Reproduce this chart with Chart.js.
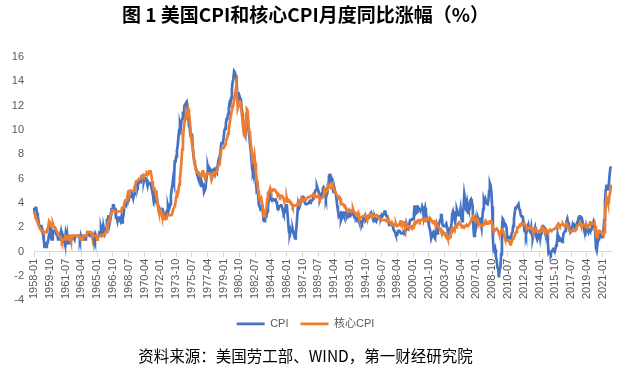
<!DOCTYPE html>
<html>
<head>
<meta charset="utf-8">
<script src="https://cdn.jsdelivr.net/npm/chart.js@4.4.1/dist/chart.umd.min.js"></script>
<style>
  body { margin: 0; background: #fff; }
</style>
</head>
<body>
<canvas id="cpiChart" width="621" height="375"></canvas>
<script>
// 月度同比 (%), 1958-01 ~ 2021-12, 每行一年
const startYear = 1958;
const endYear = 2021;
const tickEvery = 21; // 横轴每21个月标一次

const cpi = [
  3.6, 3.2, 3.6, 3.6, 3.2, 2.9, 2.5, 2.1, 2.1, 2.1, 2.1, 1.8,
  1.4, 1.0, 0.4, 0.4, 0.4, 0.7, 0.7, 1.0, 1.4, 1.7, 1.4, 1.7,
  1.0, 1.7, 1.7, 1.7, 1.7, 1.7, 1.4, 1.4, 1.0, 1.4, 1.4, 1.4,
  1.7, 1.4, 1.4, 1.0, 1.0, 0.7, 1.4, 1.0, 1.4, 0.7, 0.7, 0.7,
  0.7, 1.0, 1.0, 1.3, 1.3, 1.3, 1.0, 1.3, 1.3, 1.3, 1.3, 1.3,
  1.3, 1.0, 1.3, 1.0, 1.0, 1.3, 1.3, 1.3, 1.0, 1.3, 1.3, 1.6,
  1.6, 1.6, 1.3, 1.3, 1.3, 1.3, 1.3, 1.0, 1.3, 1.0, 1.3, 1.0,
  1.0, 1.0, 1.3, 1.6, 1.6, 1.9, 1.6, 1.9, 1.6, 1.9, 1.6, 1.9,
  1.9, 2.6, 2.6, 2.9, 2.9, 2.5, 2.8, 3.5, 3.5, 3.8, 3.8, 3.5,
  3.5, 2.8, 2.8, 2.5, 2.8, 2.8, 2.8, 2.5, 2.8, 2.4, 2.7, 3.0,
  3.7, 4.0, 3.9, 3.9, 3.9, 4.2, 4.5, 4.5, 4.5, 4.5, 4.8, 4.7,
  4.4, 4.7, 5.3, 5.5, 5.5, 5.5, 5.4, 5.7, 5.7, 5.7, 5.9, 6.2,
  6.2, 6.2, 5.8, 6.1, 6.0, 6.0, 6.0, 5.4, 5.7, 5.6, 5.6, 5.6,
  5.3, 5.0, 4.7, 4.2, 4.4, 4.6, 4.4, 4.6, 4.1, 3.8, 3.3, 3.3,
  3.3, 3.5, 3.5, 3.5, 3.2, 2.7, 2.9, 2.9, 3.2, 3.4, 3.7, 3.4,
  3.6, 3.9, 4.6, 5.1, 5.5, 6.0, 5.7, 7.4, 7.4, 7.8, 8.3, 8.7,
  9.4, 10.0, 10.4, 10.1, 10.7, 10.9, 11.5, 10.9, 12.0, 12.1, 12.2, 12.3,
  11.8, 11.2, 10.3, 10.2, 9.5, 9.4, 9.7, 8.6, 7.9, 7.4, 7.4, 6.9,
  6.7, 6.3, 6.1, 6.1, 6.2, 6.0, 5.4, 5.7, 5.5, 5.5, 4.9, 4.9,
  5.2, 5.9, 6.4, 7.0, 6.7, 6.9, 6.8, 6.6, 6.6, 6.4, 6.7, 6.7,
  6.8, 6.4, 6.6, 6.5, 7.0, 7.4, 7.7, 7.8, 8.3, 8.9, 8.9, 9.0,
  9.3, 9.9, 10.1, 10.5, 10.9, 10.9, 11.3, 11.8, 12.2, 12.1, 12.6, 13.3,
  13.9, 14.2, 14.8, 14.7, 14.4, 14.4, 13.1, 12.9, 12.6, 12.8, 12.6, 12.5,
  11.8, 11.4, 10.5, 10.0, 9.8, 9.6, 10.8, 10.8, 11.0, 10.1, 9.6, 8.9,
  8.4, 7.6, 6.8, 6.5, 6.7, 7.1, 6.4, 5.9, 5.0, 5.1, 4.6, 3.8,
  3.7, 3.5, 3.6, 3.9, 3.5, 2.6, 2.5, 2.6, 2.9, 2.9, 3.3, 3.8,
  4.2, 4.6, 4.8, 4.6, 4.2, 4.2, 4.2, 4.3, 4.3, 4.3, 4.1, 3.9,
  3.5, 3.5, 3.7, 3.7, 3.8, 3.8, 3.6, 3.3, 3.1, 3.2, 3.5, 3.8,
  3.9, 3.1, 2.3, 1.6, 1.5, 1.8, 1.6, 1.6, 1.8, 1.5, 1.3, 1.1,
  1.5, 2.1, 3.0, 3.8, 3.9, 3.7, 3.9, 4.3, 4.4, 4.5, 4.5, 4.4,
  4.0, 3.9, 3.9, 3.9, 3.9, 4.0, 4.1, 4.0, 4.2, 4.2, 4.2, 4.4,
  4.7, 4.8, 5.0, 5.1, 5.4, 5.2, 5.0, 4.7, 4.3, 4.5, 4.7, 4.6,
  5.2, 5.3, 5.2, 4.7, 4.4, 4.7, 4.8, 5.6, 6.2, 6.3, 6.3, 6.1,
  5.7, 5.3, 4.9, 4.9, 5.0, 4.7, 4.4, 3.8, 3.4, 2.9, 3.0, 3.1,
  2.6, 2.8, 3.2, 3.2, 3.0, 3.1, 3.2, 3.1, 3.0, 3.2, 3.0, 2.9,
  3.3, 3.2, 3.1, 3.2, 3.2, 3.0, 2.8, 2.8, 2.7, 2.8, 2.7, 2.7,
  2.5, 2.5, 2.5, 2.4, 2.3, 2.5, 2.8, 2.9, 3.0, 2.6, 2.7, 2.7,
  2.8, 2.9, 2.9, 3.1, 3.2, 3.0, 2.8, 2.6, 2.5, 2.8, 2.6, 2.5,
  2.7, 2.7, 2.8, 2.9, 2.9, 2.8, 3.0, 2.9, 3.0, 3.0, 3.3, 3.3,
  3.0, 3.0, 2.8, 2.5, 2.2, 2.3, 2.2, 2.2, 2.2, 2.1, 1.8, 1.7,
  1.6, 1.4, 1.4, 1.4, 1.7, 1.7, 1.7, 1.6, 1.5, 1.5, 1.5, 1.6,
  1.7, 1.6, 1.7, 2.3, 2.1, 2.0, 2.1, 2.3, 2.6, 2.6, 2.6, 2.7,
  2.7, 3.2, 3.8, 3.1, 3.2, 3.7, 3.7, 3.4, 3.5, 3.4, 3.4, 3.4,
  3.7, 3.5, 2.9, 3.3, 3.6, 3.2, 2.7, 2.7, 2.6, 2.1, 1.9, 1.6,
  1.1, 1.1, 1.5, 1.6, 1.2, 1.1, 1.5, 1.8, 1.5, 2.0, 2.2, 2.4,
  2.6, 3.0, 3.0, 2.2, 2.1, 2.1, 2.1, 2.2, 2.3, 2.0, 1.8, 1.9,
  1.9, 1.7, 1.7, 2.3, 3.1, 3.3, 3.0, 2.7, 2.5, 3.2, 3.5, 3.3,
  3.0, 3.0, 3.1, 3.5, 2.8, 2.5, 3.2, 3.6, 4.7, 4.3, 3.5, 3.4,
  4.0, 3.6, 3.4, 3.5, 4.2, 4.3, 4.1, 3.8, 2.1, 1.3, 2.0, 2.5,
  2.1, 2.4, 2.8, 2.6, 2.7, 2.7, 2.4, 2.0, 2.8, 3.5, 4.3, 4.1,
  4.3, 4.0, 4.0, 3.9, 4.2, 5.0, 5.6, 5.4, 4.9, 3.7, 1.1, 0.1,
  0.0, 0.2, -0.4, -0.7, -1.3, -1.4, -2.1, -1.5, -1.3, -0.2, 1.8, 2.7,
  2.6, 2.1, 2.3, 2.2, 2.0, 1.1, 1.2, 1.1, 1.1, 1.2, 1.1, 1.5,
  1.6, 2.1, 2.7, 3.2, 3.6, 3.6, 3.6, 3.8, 3.9, 3.5, 3.4, 3.0,
  2.9, 2.9, 2.7, 2.3, 1.7, 1.7, 1.4, 1.7, 2.0, 2.2, 1.8, 1.7,
  1.6, 2.0, 1.5, 1.1, 1.4, 1.8, 2.0, 1.5, 1.2, 1.0, 1.2, 1.5,
  1.6, 1.1, 1.5, 2.0, 2.1, 2.1, 2.0, 1.7, 1.7, 1.7, 1.3, 0.8,
  -0.1, 0.0, -0.1, -0.2, 0.0, 0.1, 0.2, 0.2, 0.0, 0.2, 0.5, 0.7,
  1.4, 1.0, 0.9, 1.1, 1.0, 1.0, 0.8, 1.1, 1.5, 1.6, 1.7, 2.1,
  2.5, 2.7, 2.4, 2.2, 1.9, 1.6, 1.7, 1.9, 2.2, 2.0, 2.2, 2.1,
  2.1, 2.2, 2.4, 2.5, 2.8, 2.9, 2.9, 2.7, 2.3, 2.5, 2.2, 1.9,
  1.6, 1.5, 1.9, 2.0, 1.8, 1.6, 1.8, 1.7, 1.7, 1.8, 2.1, 2.3,
  2.5, 2.3, 1.5, 0.3, 0.1, 0.6, 1.0, 1.3, 1.4, 1.2, 1.2, 1.4,
  1.4, 1.7, 2.6, 4.2, 5.0, 5.4, 5.4, 5.3, 5.4, 6.2, 6.8, 7.0
];

const coreCpi = [
  3.3, 3.1, 2.8, 2.8, 2.5, 2.4, 2.2, 2.0, 1.9, 1.8, 1.7, 1.7,
  1.7, 1.6, 1.6, 1.6, 1.6, 1.7, 1.9, 2.1, 2.5, 2.4, 2.2, 2.1,
  2.1, 2.3, 2.1, 2.0, 2.0, 2.0, 1.7, 1.6, 1.4, 1.4, 1.3, 1.2,
  1.0, 0.8, 0.9, 1.0, 1.0, 1.1, 1.3, 1.3, 1.0, 1.0, 1.0, 1.3,
  1.3, 1.0, 1.0, 1.3, 1.3, 1.3, 1.3, 1.3, 1.3, 1.3, 1.3, 1.3,
  1.3, 1.3, 1.0, 1.0, 1.0, 1.3, 1.3, 1.3, 1.3, 1.3, 1.3, 1.6,
  1.6, 1.6, 1.6, 1.6, 1.6, 1.3, 1.3, 1.3, 1.3, 1.3, 1.3, 1.3,
  1.0, 1.3, 1.3, 1.3, 1.3, 1.3, 1.3, 1.3, 1.3, 1.3, 1.3, 1.6,
  1.6, 1.9, 2.2, 2.5, 2.5, 2.8, 3.1, 3.1, 3.4, 3.4, 3.4, 3.3,
  3.3, 3.3, 3.3, 3.3, 3.3, 3.3, 3.3, 3.3, 3.3, 3.6, 3.6, 3.6,
  3.9, 4.2, 4.2, 4.2, 4.5, 4.8, 4.7, 5.0, 5.0, 5.0, 5.0, 5.0,
  5.0, 5.0, 5.3, 5.6, 5.8, 5.8, 5.8, 5.9, 6.0, 6.0, 6.0, 6.1,
  6.2, 6.3, 6.2, 6.3, 6.3, 6.3, 6.4, 6.3, 6.4, 6.6, 6.6, 6.6,
  6.3, 5.8, 5.4, 5.2, 5.2, 5.0, 4.7, 4.5, 4.1, 3.6, 3.3, 3.1,
  3.1, 3.3, 3.0, 3.0, 3.0, 2.7, 2.7, 2.7, 2.7, 3.0, 3.0, 3.0,
  3.0, 3.0, 3.0, 3.0, 3.2, 3.5, 3.5, 3.7, 4.0, 4.5, 4.8, 4.7,
  5.0, 5.5, 6.0, 6.6, 7.5, 8.4, 9.3, 10.0, 10.6, 11.0, 11.3, 11.1,
  11.3, 11.7, 11.4, 10.8, 10.1, 9.4, 8.8, 8.4, 8.0, 7.5, 7.1, 6.7,
  6.6, 6.6, 6.5, 6.5, 6.4, 6.3, 6.2, 6.3, 6.6, 6.6, 6.3, 6.1,
  6.1, 6.3, 6.4, 6.4, 6.4, 6.4, 6.4, 6.3, 5.9, 6.1, 6.5, 6.5,
  6.5, 6.4, 6.4, 6.4, 6.8, 7.0, 7.2, 7.4, 7.9, 8.4, 8.5, 8.5,
  8.5, 8.6, 8.8, 9.1, 9.2, 9.4, 9.7, 10.1, 10.5, 10.9, 11.3, 11.3,
  11.9, 12.0, 12.6, 13.0, 13.2, 13.6, 12.4, 11.8, 12.0, 12.2, 12.3, 12.2,
  11.4, 10.9, 10.2, 9.6, 9.5, 9.9, 11.3, 11.7, 11.6, 10.5, 9.9, 9.5,
  8.9, 8.5, 7.8, 7.4, 7.5, 7.9, 7.3, 6.4, 5.8, 5.8, 5.0, 4.5,
  4.3, 4.3, 4.4, 4.4, 3.7, 2.9, 2.9, 3.0, 3.4, 3.6, 4.3, 4.8,
  4.9, 5.0, 5.2, 5.0, 5.0, 5.0, 5.1, 5.1, 5.1, 5.0, 4.9, 4.8,
  4.6, 4.7, 4.6, 4.5, 4.6, 4.6, 4.5, 4.5, 4.5, 4.1, 4.3, 4.3,
  4.4, 4.1, 4.1, 4.2, 4.1, 4.1, 4.0, 3.9, 3.7, 3.8, 3.8, 3.8,
  3.8, 3.8, 3.8, 4.1, 4.0, 4.0, 4.0, 4.2, 4.3, 4.2, 4.3, 4.2,
  4.3, 4.3, 4.3, 4.4, 4.4, 4.5, 4.5, 4.5, 4.5, 4.6, 4.6, 4.7,
  4.6, 4.6, 4.6, 4.5, 4.5, 4.5, 4.6, 4.4, 4.3, 4.4, 4.4, 4.4,
  4.4, 4.6, 5.0, 4.8, 4.8, 5.0, 5.0, 5.5, 5.5, 5.3, 5.3, 5.2,
  5.6, 5.6, 5.2, 5.1, 5.1, 4.8, 4.7, 4.6, 4.5, 4.4, 4.5, 4.4,
  3.9, 3.9, 3.9, 3.9, 3.8, 3.8, 3.7, 3.5, 3.4, 3.4, 3.4, 3.3,
  3.4, 3.4, 3.3, 3.4, 3.5, 3.3, 3.2, 3.2, 3.1, 3.1, 3.1, 3.2,
  2.9, 2.8, 2.8, 2.8, 2.8, 2.9, 2.9, 2.9, 3.0, 2.9, 2.8, 2.6,
  2.9, 3.0, 3.0, 3.1, 3.1, 3.0, 3.0, 3.0, 2.9, 3.0, 3.0, 3.0,
  3.0, 2.9, 2.8, 2.7, 2.7, 2.7, 2.7, 2.6, 2.6, 2.6, 2.6, 2.6,
  2.5, 2.5, 2.5, 2.7, 2.5, 2.4, 2.4, 2.3, 2.2, 2.3, 2.2, 2.2,
  2.2, 2.3, 2.1, 2.1, 2.2, 2.2, 2.2, 2.5, 2.5, 2.3, 2.4, 2.4,
  2.4, 2.1, 2.1, 2.2, 2.0, 2.1, 2.1, 1.9, 2.0, 2.1, 2.1, 1.9,
  2.0, 2.2, 2.4, 2.3, 2.4, 2.5, 2.5, 2.6, 2.6, 2.5, 2.6, 2.6,
  2.6, 2.7, 2.7, 2.6, 2.5, 2.7, 2.7, 2.6, 2.6, 2.6, 2.8, 2.7,
  2.6, 2.6, 2.4, 2.5, 2.5, 2.3, 2.2, 2.4, 2.2, 2.2, 2.0, 1.9,
  1.9, 1.7, 1.7, 1.5, 1.6, 1.5, 1.5, 1.3, 1.2, 1.3, 1.1, 1.1,
  1.1, 1.2, 1.6, 1.8, 1.7, 1.9, 1.8, 1.7, 2.0, 2.0, 2.2, 2.2,
  2.3, 2.4, 2.3, 2.2, 2.2, 2.0, 2.1, 2.1, 2.0, 2.1, 2.1, 2.2,
  2.1, 2.1, 2.1, 2.3, 2.4, 2.6, 2.7, 2.8, 2.9, 2.7, 2.6, 2.6,
  2.7, 2.7, 2.5, 2.3, 2.2, 2.2, 2.2, 2.1, 2.1, 2.2, 2.3, 2.4,
  2.5, 2.3, 2.4, 2.3, 2.3, 2.4, 2.5, 2.5, 2.5, 2.2, 2.0, 1.8,
  1.7, 1.8, 1.8, 1.9, 1.8, 1.7, 1.5, 1.4, 1.5, 1.7, 1.7, 1.8,
  1.6, 1.3, 1.1, 0.9, 0.9, 0.9, 0.9, 0.9, 0.8, 0.6, 0.8, 0.8,
  1.0, 1.1, 1.2, 1.3, 1.5, 1.6, 1.8, 2.0, 2.0, 2.1, 2.2, 2.2,
  2.3, 2.2, 2.3, 2.3, 2.3, 2.2, 2.1, 1.9, 2.0, 2.0, 1.9, 1.9,
  1.9, 2.0, 1.9, 1.7, 1.7, 1.6, 1.7, 1.8, 1.7, 1.7, 1.7, 1.7,
  1.6, 1.6, 1.7, 1.8, 2.0, 1.9, 1.9, 1.7, 1.7, 1.8, 1.7, 1.6,
  1.6, 1.7, 1.8, 1.8, 1.7, 1.8, 1.8, 1.8, 1.9, 1.9, 2.0, 2.1,
  2.2, 2.3, 2.2, 2.1, 2.2, 2.2, 2.2, 2.3, 2.2, 2.1, 2.1, 2.2,
  2.3, 2.2, 2.0, 1.9, 1.7, 1.7, 1.7, 1.7, 1.7, 1.8, 1.7, 1.8,
  1.8, 1.8, 2.1, 2.1, 2.2, 2.3, 2.4, 2.2, 2.2, 2.1, 2.2, 2.2,
  2.2, 2.1, 2.0, 2.1, 2.0, 2.1, 2.2, 2.4, 2.4, 2.3, 2.3, 2.3,
  2.3, 2.4, 2.1, 1.4, 1.2, 1.2, 1.6, 1.7, 1.7, 1.6, 1.6, 1.6,
  1.4, 1.3, 1.6, 3.0, 3.8, 4.5, 4.3, 4.0, 4.0, 4.6, 4.9, 5.5
];

// 月份标签
const months = [];
for (let y = startYear; y <= endYear; y++) {
  for (let m = 1; m <= 12; m++) {
    months.push(y + '-' + String(m).padStart(2, '0'));
  }
}

const sansFont = '"Liberation Sans", "Noto Sans CJK SC", sans-serif';
Chart.defaults.font.family = sansFont;
Chart.defaults.color = '#595959';

let ctx = document.getElementById("cpiChart").getContext("2d");

new Chart(ctx, {
  type: 'line',
  data: {
    labels: months,
    datasets: [{
      label: "CPI",
      data: cpi,
      borderColor: '#4472C4',
      backgroundColor: '#4472C4',
      borderWidth: 2.7,
      pointRadius: 0,
      order: 2
    },
    {
      label: "核心CPI",
      data: coreCpi,
      borderColor: '#ED7D31',
      backgroundColor: '#ED7D31',
      borderWidth: 2.7,
      pointRadius: 0,
      order: 1
    }]
  },
  options: {
    responsive: false,
    animation: false,
    devicePixelRatio: 1,
    layout: {
      padding: { left: 0, right: 10, top: 0, bottom: 9 }
    },
    plugins: {
      title: {
        display: true,
        text: '图 1 美国CPI和核心CPI月度同比涨幅（%）',
        color: '#000',
        font: { family: '"Noto Sans CJK SC", sans-serif', size: 19, weight: 'bold' },
        padding: { top: 3, bottom: 31 }
      },
      legend: {
        position: 'bottom',
        labels: {
          usePointStyle: true,
          pointStyle: 'line',
          pointStyleWidth: 28,
          padding: 12,
          font: { size: 11 },
          color: '#595959',
          sort: (a, b) => a.datasetIndex - b.datasetIndex
        },
        title: { display: true, text: '', padding: 0, font: { size: 5 } }
      },
      subtitle: {
        display: true,
        position: 'bottom',
        weight: 2000,
        text: '资料来源：美国劳工部、WIND，第一财经研究院',
        color: '#000',
        font: { family: '"Noto Sans CJK SC", sans-serif', size: 15.5, weight: 'normal' },
        padding: { top: 7, bottom: 1 }
      },
      tooltip: { enabled: false }
    },
    scales: {
      x: {
        position: { y: 0 },
        grid: {
          display: true,
          drawOnChartArea: false,
          drawTicks: true,
          tickLength: 5,
          color: '#d9d9d9'
        },
        border: { color: '#d9d9d9' },
        ticks: {
          autoSkip: false,
          maxRotation: 90,
          minRotation: 90,
          padding: 2,
          font: { size: 11 },
          callback: (v, i) => i % tickEvery === 0 ? months[i] : null
        }
      },
      y: {
        min: -4,
        max: 16,
        grid: { display: false, drawTicks: false },
        border: { display: false },
        ticks: { stepSize: 2, padding: 10, font: { size: 11 } },
        afterFit: s => { s.width = 34; }
      }
    }
  }
});
</script>
</body>
</html>
